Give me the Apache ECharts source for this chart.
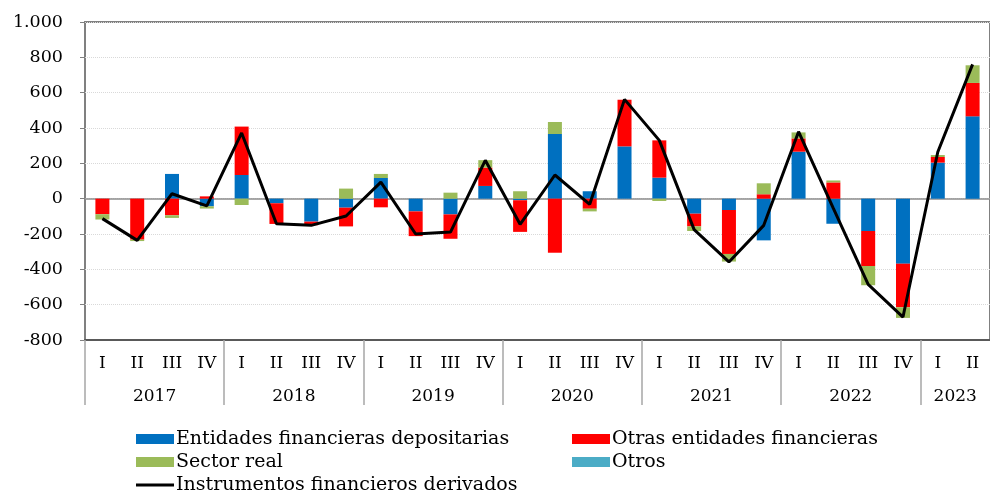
<!DOCTYPE html>
<html><head><meta charset="utf-8">
<script src="https://cdn.jsdelivr.net/npm/echarts@6/dist/echarts.min.js"></script>
<style>html,body{margin:0;padding:0;background:#fff}#c{width:990px;height:493px}</style>
</head><body><div id="c"></div>
<script>
const years = ['2017','2018','2019','2020','2021','2022','2023'];
const quartersPerYear = [4,4,4,4,4,4,2];
const quarterNames = ['I','II','III','IV'];

const entidades = [0, 0, 140, -43,  134, -26, -130, -51,  117, -72, -89, 72,  -9, 366, 42, 296,  119, -85, -64, -236,  266, -142, -183, -368,  204, 466];
const otras     = [-88, -232, -94, 13,  274, -117, -20, -106,  -49, -140, -138, 104,  -179, -306, -57, 264,  211, -72, -249, 25,  75, 92, -198, -247,  32, 189];
const sectorReal= [-30, -8, -15, -13,  -36, 0, 0, 57,  23, 0, 34, 42,  42, 68, -15, 0,  -13, -26, -43, 62,  34, 11, -109, -60,  11, 100];
const otros     = [0, 0, 0, 0,  0, 0, 0, 0,  0, 0, 0, 0,  0, 0, 0, 0,  0, 0, 0, 0,  0, 0, 0, 0,  0, 0];
const derivados = [-113, -236, 28, -41,  372, -142, -151, -98,  94, -200, -189, 217,  -145, 134, -32, 562,  330, -175, -358, -151,  379, -55, -485, -670,  264, 760];

const yTicks = [-800, -600, -400, -200, 0, 200, 400, 600, 800, 1000];

const categories = [];
const yearCenters = [];
const yearBounds = [];
let pos = 0;
years.forEach((y, i) => {
  yearBounds.push(pos);
  for (let q = 0; q < quartersPerYear[i]; q++) categories.push(y + ' ' + quarterNames[q]);
  yearCenters.push(pos + quartersPerYear[i] / 2);
  pos += quartersPerYear[i];
});

const FONT = 'DejaVu Serif';
const chart = echarts.init(document.getElementById('c'), null, {renderer: 'canvas'});
const names = ['Entidades financieras depositarias', 'Otras entidades financieras', 'Sector real', 'Otros', 'Instrumentos financieros derivados'];
const colors = ['#0070C0', '#FF0000', '#9BBB59', '#4BACC6'];

function fmt(v) {
  const s = Math.abs(v).toString();
  const t = s.length > 3 ? s.slice(0, s.length - 3) + '.' + s.slice(-3) : s;
  return (v < 0 ? '-' : '') + t;
}

const barSeries = [entidades, otras, sectorReal, otros].map((d, i) => ({
  name: names[i], type: 'bar', stack: 'total', data: d, barWidth: 14,
  itemStyle: {color: colors[i]}, xAxisIndex: 0, yAxisIndex: 0, z: 2
}));
barSeries[0].markLine = {
  silent: true, symbol: 'none', label: {show: false},
  lineStyle: {color: '#8c8c8c', width: 1.5, type: 'solid'},
  data: [{yAxis: 0}], z: 1
};

const legendText = {fontFamily: FONT, fontSize: 19, color: '#000', lineHeight: 20, padding: [0,0,0,-3]};

chart.setOption({
  animation: false,
  textStyle: {fontFamily: FONT},
  grid: {left: 85, top: 22, right: -13, bottom: 153, show: true, borderColor: '#808080', borderWidth: 2, backgroundColor: 'transparent'},
  legend: [
    {left: 136, top: 429, height: 70, padding: 0, orient: 'vertical', itemWidth: 38, itemHeight: 10, itemGap: 3,
     textStyle: legendText,
     data: [{name: names[0], icon: 'rect'}, {name: names[2], icon: 'rect'}, {name: names[4], icon: 'path://M0,0H40V3H0Z', itemStyle: {color: '#000'}}]},
    {left: 572, top: 429, height: 70, padding: 0, orient: 'vertical', itemWidth: 38, itemHeight: 10, itemGap: 3,
     textStyle: legendText,
     data: [{name: names[1], icon: 'rect'}, {name: names[3], icon: 'rect'}]}
  ],
  xAxis: [
    {type: 'category', data: categories, position: 'bottom', boundaryGap: true,
     axisLine: {show: true, onZero: false, lineStyle: {color: '#595959', width: 2}},
     axisTick: {show: false},
     axisLabel: {interval: 0, margin: 15, fontFamily: FONT, fontSize: 17, color: '#000', formatter: v => v.split(' ')[1]}},
    {type: 'value', min: 0, max: categories.length, position: 'bottom', gridIndex: 0,
     axisLine: {show: false, onZero: false}, splitLine: {show: false},
     axisTick: {show: true, customValues: yearBounds, length: 65, lineStyle: {color: '#a6a6a6', width: 1.5}},
     axisLabel: {show: true, customValues: yearCenters, margin: 48, fontFamily: FONT, fontSize: 17, color: '#000',
       formatter: v => { const i = yearCenters.indexOf(v); return i >= 0 ? years[i] : ''; }}}
  ],
  yAxis: {type: 'value', min: yTicks[0], max: yTicks[yTicks.length - 1], interval: 200,
    axisLine: {show: false},
    axisTick: {show: true, length: 5, lineStyle: {color: '#808080'}},
    splitLine: {show: true, lineStyle: {color: '#d9d9d9', type: 'dotted', width: 1}},
    axisLabel: {margin: 22, fontFamily: FONT, fontSize: 17.5, color: '#000', formatter: fmt}},
  series: [...barSeries,
    {name: names[4], type: 'line', data: derivados, xAxisIndex: 0, yAxisIndex: 0, symbol: 'none', showSymbol: false,
     lineStyle: {color: '#000', width: 3}, itemStyle: {color: '#000'}, z: 5}
  ]
});
</script></body></html>
